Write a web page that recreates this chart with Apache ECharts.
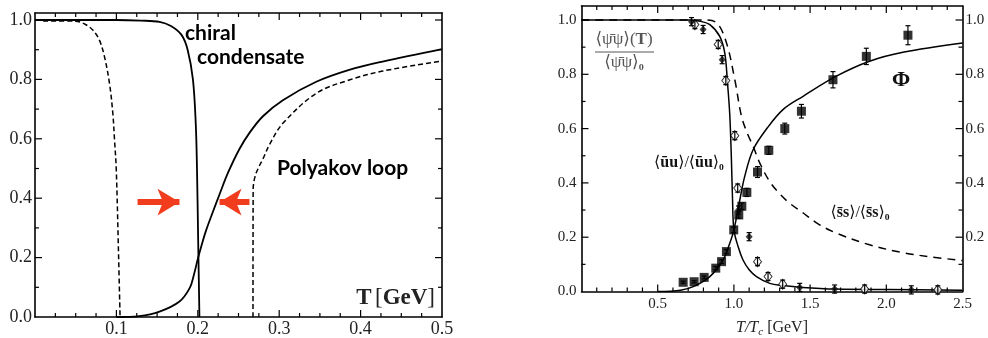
<!DOCTYPE html>
<html>
<head>
<meta charset="utf-8">
<script src="https://cdn.jsdelivr.net/npm/echarts@6/dist/echarts.min.js"></script>
<style>
  html, body { margin: 0; padding: 0; background: #fff; }
  #chart { width: 988px; height: 338px; }
</style>
</head>
<body>
<div id="chart"></div>
<script>
// ---- left panel, T in GeV ----
const chiralSolid = [[0, 1], [0.1, 1], [0.13, 0.998], [0.153, 0.994], [0.167, 0.98], [0.18, 0.95],
  [0.1875, 0.9], [0.194, 0.8], [0.1975, 0.65], [0.199, 0.5], [0.2005, 0.25], [0.202, 0]];
const chiralDashed = [[0.01, 0.997], [0.05, 0.996], [0.062, 0.985], [0.071, 0.966], [0.079, 0.933],
  [0.0854, 0.876], [0.0915, 0.787], [0.0956, 0.686], [0.0977, 0.596], [0.0998, 0.5], [0.1026, 0.215], [0.1045, 0]];
const polySolid = [[0.1, 0], [0.128, 0.003], [0.153, 0.018], [0.1775, 0.052], [0.19, 0.097], [0.195, 0.14],
  [0.2, 0.195], [0.205, 0.245], [0.21, 0.29], [0.218, 0.35], [0.227, 0.415], [0.237, 0.485], [0.251, 0.565],
  [0.2635, 0.62], [0.28, 0.676], [0.3045, 0.73], [0.3455, 0.792], [0.386, 0.832], [0.427, 0.86], [0.5, 0.902]];
const polyDashed = [[0.2678, 0], [0.268, 0.43], [0.2705, 0.475], [0.275, 0.505], [0.28, 0.532], [0.288, 0.58],
  [0.3045, 0.652], [0.3455, 0.753], [0.386, 0.798], [0.427, 0.828], [0.5, 0.862]];
// red arrows: [from, to]
const arrows = [[[0.126, 0.387], [0.1775, 0.387]], [[0.2635, 0.387], [0.2267, 0.387]]];

// ---- right panel, T/Tc ----
const uuSolid = [[0, 1], [0.7, 1], [0.78, 0.995], [0.842, 0.983], [0.907, 0.94], [0.94, 0.879], [0.958, 0.768],
  [0.973, 0.65], [0.984, 0.48], [0.991, 0.34], [1.0, 0.227], [1.028, 0.165], [1.06, 0.116], [1.1, 0.08],
  [1.148, 0.055], [1.235, 0.03], [1.32, 0.022], [1.45, 0.015], [1.67, 0.009], [2.0, 0.007], [2.5, 0.005]];
const phiSolid = [[0.5, 0], [0.65, 0.005], [0.733, 0.018], [0.842, 0.055], [0.929, 0.116], [0.973, 0.178],
  [1.0, 0.227], [1.039, 0.338], [1.071, 0.424], [1.126, 0.522], [1.22, 0.603], [1.322, 0.67], [1.454, 0.719],
  [1.672, 0.793], [1.89, 0.848], [2.109, 0.881], [2.5, 0.915]];
const ssDashed = [[0, 1], [0.8, 1], [0.886, 0.99], [0.951, 0.916], [1.006, 0.78], [1.05, 0.645], [1.09, 0.58],
  [1.126, 0.535], [1.17, 0.473], [1.235, 0.405], [1.3, 0.36], [1.366, 0.325], [1.453, 0.29], [1.55, 0.25],
  [1.672, 0.215], [1.89, 0.172], [2.109, 0.143], [2.3, 0.127], [2.5, 0.114]];

// lattice points for Phi (squares)
const sqT = [0.667, 0.739, 0.805, 0.881, 0.919, 0.951, 0.999, 1.032, 1.052, 1.085, 1.155, 1.229, 1.334, 1.443, 1.65, 1.869, 2.142];
const sqV = [0.034, 0.036, 0.052, 0.086, 0.11, 0.147, 0.227, 0.282, 0.314, 0.365, 0.44, 0.52, 0.6, 0.664, 0.78, 0.866, 0.944];
const sqErr = [0.004, 0.004, 0.005, 0.006, 0.007, 0.008, 0.01, 0.012, 0.012, 0.015, 0.02, 0.015, 0.02, 0.025, 0.03, 0.03, 0.035];

// lattice points for the condensate (diamonds), open and filled
const openT = [0.744, 0.897, 0.947, 1.006, 1.025, 1.155, 1.224, 1.32, 1.858, 2.338];
const openV = [0.983, 0.91, 0.777, 0.574, 0.381, 0.11, 0.055, 0.027, 0.009, 0.006];
const fillT = [0.722, 0.798, 0.923, 1.03, 1.1, 1.432, 1.661, 2.164];
const fillV = [0.994, 0.965, 0.854, 0.3, 0.202, 0.015, 0.009, 0.006];
const diaErr = 0.015;

// axis ranges and tick steps [minor, major]
const leftX = [0, 0.5], leftY = [0, 1.0236];
const rightX = [0, 2.5], rightY = [0, 1.0516];
const leftXSteps = [0.025, 0.1], leftYSteps = [0.1, 0.2];
const rightXSteps = [0.1, 0.5], rightYSteps = [0.1, 0.2];

const serif = "'Liberation Serif', 'DejaVu Serif', serif";
const sans = "Lato, 'Open Sans', sans-serif";

const myChart = echarts.init(document.getElementById('chart'));

function frameAxis(opt) {
  const major = opt.interval;
  const a = {
    type: 'value',
    gridIndex: opt.grid,
    position: opt.position,
    min: opt.range[0],
    max: opt.range[1],
    interval: major,
    axisLine: { show: true, onZero: false, lineStyle: { color: '#000', width: 1.6 } },
    axisTick: { show: false },
    splitLine: { show: false },
    axisLabel: { show: false }
  };
  if (opt.labels) {
    a.axisLabel = {
      show: true,
      margin: opt.margin || 4,
      fontFamily: serif,
      fontSize: opt.fontSize || 15,
      color: '#222',
      formatter: (v) => {
        const k = v / major;
        if (Math.abs(k - Math.round(k)) > 1e-6) return '';
        if (v < 1e-9 && opt.hideZero) return '';
        if (v > 1.0001 * opt.labelMax) return '';
        return v.toFixed(1);
      }
    };
  }
  return a;
}

// tick list: [value, 1 if major]
function tickList(range, steps) {
  const out = [];
  const n = Math.floor(range[1] / steps[0] + 1e-6);
  for (let i = 1; i <= n; i++) {
    const v = +(i * steps[0]).toFixed(4);
    if (v >= range[1] - 1e-6) break;
    const k = v / steps[1];
    out.push([v, Math.abs(k - Math.round(k)) < 1e-6 ? 1 : 0]);
  }
  return out;
}

function errorBar(params, api) {
  const x = api.value(0);
  const bot = api.coord([x, api.value(1)]);
  const top = api.coord([x, api.value(2)]);
  const w = 2.5;
  const st = { stroke: '#000', lineWidth: 1.2 };
  return {
    type: 'group',
    children: [
      { type: 'line', shape: { x1: top[0], y1: top[1], x2: bot[0], y2: bot[1] }, style: st },
      { type: 'line', shape: { x1: top[0] - w, y1: top[1], x2: top[0] + w, y2: top[1] }, style: st },
      { type: 'line', shape: { x1: bot[0] - w, y1: bot[1], x2: bot[0] + w, y2: bot[1] }, style: st }
    ]
  };
}

function curve(data, xi, dashed, width) {
  return {
    type: 'line', xAxisIndex: xi, yAxisIndex: xi, data: data,
    symbol: 'none', smooth: 0.35, silent: true,
    lineStyle: { color: '#000', width: width, type: dashed ? dashed : 'solid' }
  };
}

const sqPoints = sqT.map((t, i) => [t, sqV[i]]);
const sqBars = sqT.map((t, i) => [t, sqV[i] - sqErr[i], sqV[i] + sqErr[i]]);
const openPoints = openT.map((t, i) => [t, openV[i]]);
const fillPoints = fillT.map((t, i) => [t, fillV[i]]);
const diaBars = openT.concat(fillT).map((t, i) => {
  const v = i < openT.length ? openV[i] : fillV[i - openT.length];
  return [t, v - diaErr, v + diaErr];
});

// text labels drawn on top of the panels
const labels = [
  // left panel
  { type: 'text', x: 185, y: 33, style: { text: 'chiral', font: `bold 21px ${sans}`, fill: '#000', align: 'left', verticalAlign: 'middle' } },
  { type: 'text', x: 197, y: 57, style: { text: 'condensate', font: `bold 21px ${sans}`, fill: '#000', align: 'left', verticalAlign: 'middle' } },
  { type: 'text', x: 277, y: 168, style: { text: 'Polyakov loop', font: `bold 21px ${sans}`, fill: '#000', align: 'left', verticalAlign: 'middle' } },
  { type: 'text', x: 435, y: 298, style: {
    text: '{b|T} {n|[}{b|GeV}{n|]}', align: 'right', verticalAlign: 'middle',
    rich: { b: { fontFamily: serif, fontSize: 23, fontWeight: 'bold', fill: '#222' }, n: { fontFamily: serif, fontSize: 23, fill: '#222' } } } },
  // right panel
  { type: 'text', x: 624, y: 40, style: {
    text: '{a|\u27E8\u03C8\u0304\u03C8\u27E9(}{b|T}{a|)}', align: 'center', verticalAlign: 'middle',
    rich: { a: { fontFamily: serif, fontSize: 17, fill: '#555' }, b: { fontFamily: serif, fontSize: 17, fontWeight: 'bold', fill: '#555' } } } },
  { type: 'line', shape: { x1: 595, y1: 52, x2: 654, y2: 52 }, style: { stroke: '#555', lineWidth: 1 } },
  { type: 'text', x: 624, y: 63, style: {
    text: '{a|\u27E8\u03C8\u0304\u03C8\u27E9}{b|\u2080}', align: 'center', verticalAlign: 'middle',
    rich: { a: { fontFamily: serif, fontSize: 17, fill: '#555' }, b: { fontFamily: serif, fontSize: 17, fontWeight: 'bold', fill: '#555' } } } },
  { type: 'text', x: 689, y: 163, style: {
    text: '{n|\u27E8}{b|\u016Bu}{n|\u27E9/\u27E8}{b|\u016Bu}{n|\u27E9}{b|\u2080}', align: 'center', verticalAlign: 'middle',
    rich: { b: { fontFamily: serif, fontSize: 16, fontWeight: 'bold', fill: '#111' }, n: { fontFamily: serif, fontSize: 16, fill: '#111' } } } },
  { type: 'text', x: 860, y: 213, style: {
    text: '{n|\u27E8}{b|s\u0304s}{n|\u27E9/\u27E8}{b|s\u0304s}{n|\u27E9}{b|\u2080}', align: 'center', verticalAlign: 'middle',
    rich: { b: { fontFamily: serif, fontSize: 16, fontWeight: 'bold', fill: '#111' }, n: { fontFamily: serif, fontSize: 16, fill: '#111' } } } },
  { type: 'text', x: 901, y: 80, style: { text: '\u03A6', font: `bold 22px ${serif}`, fill: '#111', align: 'center', verticalAlign: 'middle' } },
  { type: 'text', x: 772, y: 328, style: {
    text: '{i|T/T}{c|c}{n| [GeV]}', align: 'center', verticalAlign: 'middle',
    rich: {
      i: { fontFamily: serif, fontSize: 16, fontStyle: 'italic', fill: '#222', lineHeight: 20, verticalAlign: 'middle' },
      c: { fontFamily: serif, fontSize: 11, fontStyle: 'italic', fill: '#222', lineHeight: 11, verticalAlign: 'bottom' },
      n: { fontFamily: serif, fontSize: 16, fill: '#222', lineHeight: 20, verticalAlign: 'middle' }
    } } }
];

const option = {
  animation: false,
  grid: [
    { left: 35, top: 13, width: 407, height: 304 },
    { left: 581.5, top: 6, width: 381, height: 285.5 }
  ],
  xAxis: [
    frameAxis({ grid: 0, position: 'bottom', range: leftX, interval: 0.1, labels: true, hideZero: true, labelMax: 0.5, fontSize: 18, margin: 3 }),
    frameAxis({ grid: 0, position: 'top', range: leftX, interval: 0.1 }),
    frameAxis({ grid: 1, position: 'bottom', range: rightX, interval: 0.5, labels: true, hideZero: true, labelMax: 2.5, fontSize: 15, margin: 5 }),
    frameAxis({ grid: 1, position: 'top', range: rightX, interval: 0.5 })
  ],
  yAxis: [
    frameAxis({ grid: 0, position: 'left', range: leftY, interval: 0.2, labels: true, labelMax: 1.0, fontSize: 18, margin: 3 }),
    frameAxis({ grid: 0, position: 'right', range: leftY, interval: 0.2 }),
    frameAxis({ grid: 1, position: 'left', range: rightY, interval: 0.2, labels: true, labelMax: 1.0, fontSize: 15, margin: 5 }),
    frameAxis({ grid: 1, position: 'right', range: rightY, interval: 0.2, labels: true, hideZero: true, labelMax: 1.0, fontSize: 15, margin: 3 })
  ],
  series: [
    // left panel
    Object.assign(curve(chiralSolid, 0, null, 1.8), {
      markLine: {
        silent: true,
        symbol: ['none', 'arrow'],
        symbolSize: [20, 22],
        label: { show: false },
        lineStyle: { color: '#f23c1e', width: 6, type: 'solid' },
        data: arrows.map((a) => [{ coord: a[0] }, { coord: a[1] }])
      }
    }),
    curve(chiralDashed, 0, [5, 3], 1.5),
    curve(polySolid, 0, null, 1.8),
    curve(polyDashed, 0, [5, 3], 1.5),
    // right panel
    curve(uuSolid, 2, null, 1.5),
    curve(phiSolid, 2, null, 1.5),
    curve(ssDashed, 2, [8, 6], 1.5),
    { type: 'scatter', xAxisIndex: 2, yAxisIndex: 2, data: openPoints, symbol: 'diamond', symbolSize: [8, 10],
      itemStyle: { color: '#fff', borderColor: '#000', borderWidth: 1 }, z: 3 },
    { type: 'scatter', xAxisIndex: 2, yAxisIndex: 2, data: fillPoints, symbol: 'diamond', symbolSize: [7, 8],
      itemStyle: { color: '#111' }, z: 3 },
    { type: 'custom', xAxisIndex: 2, yAxisIndex: 2, data: diaBars, renderItem: errorBar, z: 4 },
    { type: 'custom', xAxisIndex: 2, yAxisIndex: 2, data: sqBars, renderItem: errorBar, z: 4 },
    { type: 'scatter', xAxisIndex: 2, yAxisIndex: 2, data: sqPoints, symbol: 'rect', symbolSize: 9,
      itemStyle: { color: '#000' }, z: 5 }
  ]
};

myChart.setOption(option);

// frame ticks pointing inward on all four sides, placed through the axis scales
const tickLines = [];
function frameTicks(axisIndex, xr, yr, xSteps, ySteps) {
  const finder = { xAxisIndex: axisIndex, yAxisIndex: axisIndex };
  const st = { stroke: '#000', lineWidth: 1.2 };
  tickList(xr, xSteps).forEach(([v, major]) => {
    const len = major ? 7 : 4;
    const b = myChart.convertToPixel(finder, [v, yr[0]]);
    const t = myChart.convertToPixel(finder, [v, yr[1]]);
    tickLines.push({ type: 'line', silent: true, z: 100, shape: { x1: b[0], y1: b[1], x2: b[0], y2: b[1] - len }, style: st });
    tickLines.push({ type: 'line', silent: true, z: 100, shape: { x1: t[0], y1: t[1], x2: t[0], y2: t[1] + len }, style: st });
  });
  tickList(yr, ySteps).forEach(([v, major]) => {
    const len = major ? 7 : 4;
    const l = myChart.convertToPixel(finder, [xr[0], v]);
    const r = myChart.convertToPixel(finder, [xr[1], v]);
    tickLines.push({ type: 'line', silent: true, z: 100, shape: { x1: l[0], y1: l[1], x2: l[0] + len, y2: l[1] }, style: st });
    tickLines.push({ type: 'line', silent: true, z: 100, shape: { x1: r[0], y1: r[1], x2: r[0] - len, y2: r[1] }, style: st });
  });
}
frameTicks(0, leftX, leftY, leftXSteps, leftYSteps);
frameTicks(2, rightX, rightY, rightXSteps, rightYSteps);

myChart.setOption({ graphic: labels.concat(tickLines) });
</script>
</body>
</html>
